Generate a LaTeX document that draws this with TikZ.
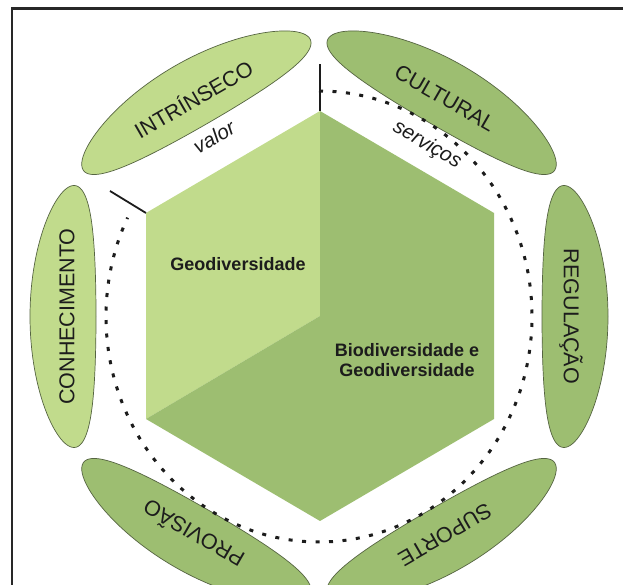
\documentclass[tikz,border=0pt]{standalone}
\usepackage{fontspec}
\setmainfont{Liberation Sans}
\usetikzlibrary{calc}
\definecolor{lightg}{RGB}{193,219,140}
\definecolor{darkg}{RGB}{157,190,113}
\definecolor{edgeg}{RGB}{85,100,65}
\definecolor{ink}{RGB}{28,28,28}
\definecolor{frame}{RGB}{40,40,40}
\begin{document}
\begin{tikzpicture}[x=1pt,y=1pt,
  blob/.style={draw=edgeg, line width=0.7pt},
  lbl/.style={font=\fontsize{21.5}{23}\selectfont, text=ink, inner sep=0pt},
  word/.style={font=\fontsize{20.5}{22}\selectfont\itshape, text=ink, inner sep=0pt},
  face/.style={font=\fontsize{18}{20.5}\selectfont\bfseries, text=ink, align=center, inner sep=0pt},
  tick/.style={line width=1.8pt, ink},
  dots/.style={line width=3pt, ink, dash pattern=on 4pt off 9.5pt}]
\useasboundingbox (0,0) rectangle (623,585);
\fill[white] (0,0) rectangle (623,585);
\draw[line width=2.2pt, frame] (12.3,-5) -- (12.3,576.5) -- (630,576.5);

% centres
\coordinate (O) at (320,269);
\coordinate (R) at (319,268.5);
% hexagon vertices
\coordinate (vT) at (320,474);
\coordinate (vUL) at (146,372);
\coordinate (vLL) at (146,166);
\coordinate (vB) at (320,64);
\coordinate (vLR) at (494,166);
\coordinate (vUR) at (494,372);
% faces
\fill[lightg] (vT) -- (vUL) -- (vLL) -- (O) -- cycle;
\fill[darkg] (vT) -- (O) -- (vLL) -- (vB) -- (vLR) -- (vUR) -- cycle;

% blobs and their labels
\foreach \a/\c/\t/\n in {120/lightg/INTRÍNSECO/intr, 60/darkg/CULTURAL/cult, 0/darkg/REGULAÇÃO/regu, -60/darkg/SUPORTE/supo, -120/darkg/PROVISÃO/prov, 180/lightg/CONHECIMENTO/conh} {
  \begin{scope}[shift={(R)}, rotate=\a-90]
    \filldraw[blob, fill=\c] plot[domain=0:360, samples=121, variable=\s]
      ({131*cos(\s)}, {256-11*cos(\s)^2+33*sin(\s)}) -- cycle;
  \end{scope}
  \node[lbl, rotate=\a-90] (\n) at ($(R)+(\a:252)$) {\t};
}

% dotted ring
\coordinate (dS) at (319,494);
\draw[dots] (dS) arc[start angle=90, end angle=-206, x radius=213, y radius=225.5];

% ticks
\coordinate (tT) at (320,521);
\coordinate (tL) at (110,394);
\draw[tick] (vT) -- (tT);
\draw[tick] (vUL) -- (tL);

% texts
\node[face] (geo) at (238,321) {Geodiversidade};
\node[face] (biogeo) at (407,225) {Biodiversidade e\\Geodiversidade};
\node[word, rotate=30] (valor) at (214,448) {valor};
\node[word, rotate=-30] (serv) at (427,440) {serviços};
\end{tikzpicture}
\end{document}
